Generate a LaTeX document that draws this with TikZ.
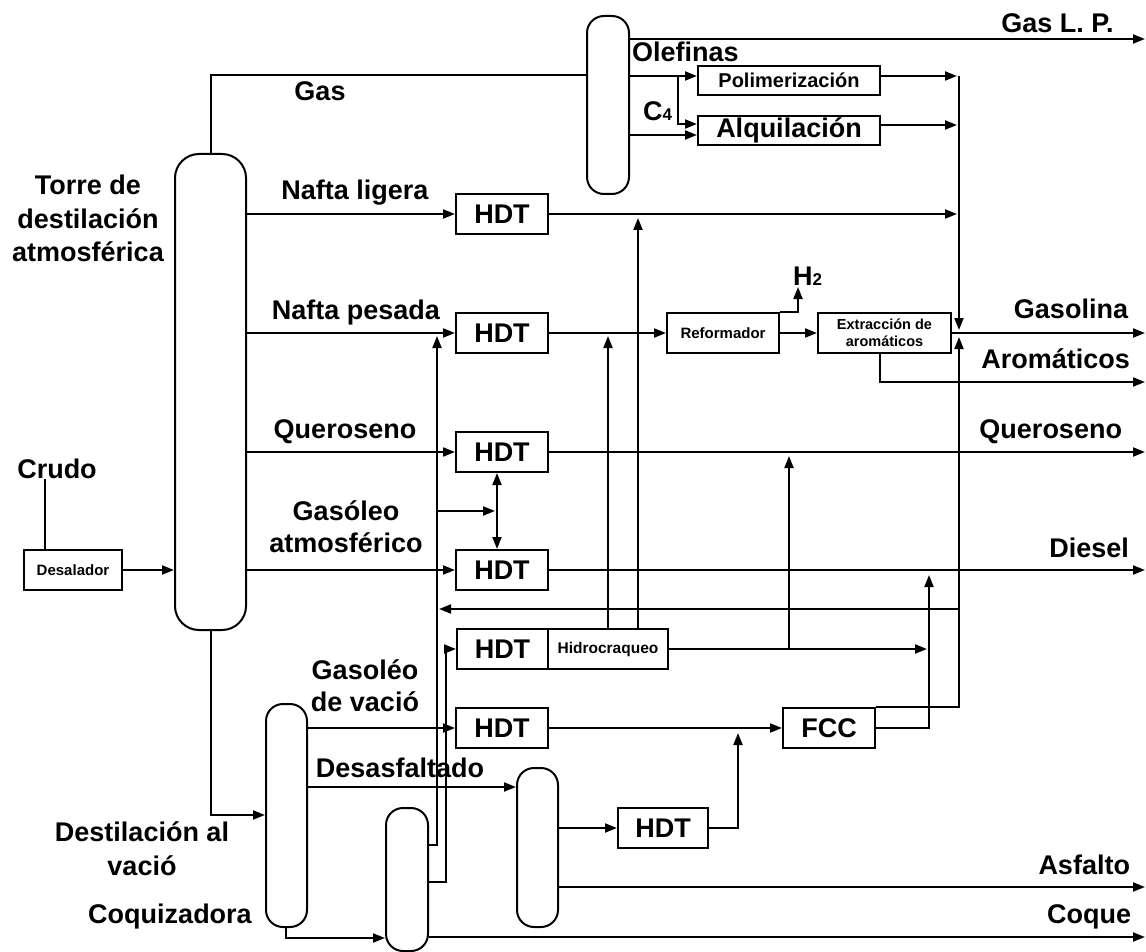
\documentclass[tikz,border=0pt]{standalone}
\usepackage{fontspec}
\setmainfont{Liberation Sans}
\usetikzlibrary{arrows.meta}
\begin{document}
\begin{tikzpicture}[x=1pt,y=-1pt,line width=2pt,
  big/.style={font=\fontsize{27}{33.5}\selectfont\bfseries},
  small/.style={font=\fontsize{15}{18}\selectfont\bfseries},
  lab/.style={big,inner sep=0pt,align=center},
  flow/.style={-{Triangle[length=12pt,width=9pt]}},
  both/.style={{Triangle[length=12pt,width=9pt]}-{Triangle[length=12pt,width=9pt]}},
  unit/.style={draw,inner sep=0pt,line width=2pt},
  hdtbox/.style={unit,big,minimum width=92pt,minimum height=40pt},
  column/.style={draw,inner sep=0pt,line width=2pt},
]
\useasboundingbox[fill=white] (0,0) rectangle (1146,952);

% columns
\node[column,rounded corners=24pt,minimum width=71pt,minimum height=476pt] (atm) at (210.5,392) {};
\node[column,rounded corners=17pt,minimum width=42pt,minimum height=178pt] (sep) at (608,105) {};
\node[column,rounded corners=17pt,minimum width=41pt,minimum height=223pt] (vac) at (286.5,815.5) {};
\node[column,rounded corners=17pt,minimum width=42pt,minimum height=143pt] (cok) at (407,879.5) {};
\node[column,rounded corners=17pt,minimum width=41pt,minimum height=159pt] (dea) at (537.5,847.5) {};

% boxes
\node[unit,small,minimum width=98pt,minimum height=40pt] (desal) at (73,570) {Desalador};
\node[hdtbox] (h1) at (502,214) {HDT};
\node[hdtbox] (h2) at (502,333) {HDT};
\node[hdtbox] (h3) at (502,452) {HDT};
\node[hdtbox] (h4) at (502,570) {HDT};
\node[hdtbox,minimum width=91pt] (h5) at (502.5,649) {HDT};
\node[unit,font=\fontsize{15.5}{18}\selectfont\bfseries,minimum width=120pt,minimum height=40pt] (hc) at (608,649) {Hidrocraqueo};
\node[hdtbox] (h6) at (502,728) {HDT};
\node[unit,font=\fontsize{20}{24}\selectfont\bfseries,minimum width=182pt,minimum height=29pt] (poli) at (789,80.5) {Polimerización};
\node[unit,big,minimum width=182pt,minimum height=29pt] (alq) at (789,130.5) {Alquilación};
\node[unit,small,minimum width=112pt,minimum height=40pt] (ref) at (723,333) {Reformador};
\node[unit,font=\fontsize{14.5}{17.5}\selectfont\bfseries,align=center,minimum width=133pt,minimum height=40pt] (ext) at (884.5,333) {Extracción de\\aromáticos};
\node[hdtbox] (fcc) at (829,728) {FCC};
\node[hdtbox,minimum width=90pt] (h7) at (663,828) {HDT};

% coordinates
\coordinate (gasX) at (211,0);
\coordinate (gasY) at (0,75);
\coordinate (lpE) at (1145,39);
\coordinate (olY) at (0,76);
\coordinate (brk) at (678,76);
\coordinate (alqIn) at (0,124);
\coordinate (c4Y) at (0,135);
\coordinate (alqOut) at (0,125);
\coordinate (colX) at (957,0);
\coordinate (colTop) at (959,76);
\coordinate (colBot) at (959,330);

% gas plant
\draw (atm.north -| gasX) |- (sep.west |- gasY);
\draw[flow] (sep.east |- lpE) -- (lpE);
\draw[flow] (sep.east |- olY) -- (poli.west |- olY);
\draw[flow] (brk) |- (alq.west |- alqIn);
\draw[flow] (sep.east |- c4Y) -- (alq.west |- c4Y);
\draw[flow] (poli.east |- olY) -- (colX |- olY);
\draw[flow] (alq.east |- alqOut) -- (colX |- alqOut);
\draw[flow] (colTop) -- (colBot);

% atmospheric cuts
\draw[flow] (atm.east |- h1.west) -- (h1.west);
\draw[flow] (h1.east) -- (colX |- h1.east);
\draw[flow] (atm.east |- h2.west) -- (h2.west);
\draw[flow] (h2.east) -- (ref.west);
\draw[flow] (ref.east) -- (ext.west);
\coordinate (gasoE) at (1145,333);
\draw[flow] (ext.east) -- (gasoE);
\coordinate (h2top) at (798,287);
\draw[flow] (ref.north east) -| (h2top);
\coordinate (aroE) at (1145,382);
\coordinate (aroX) at (880,0);
\draw[flow] (ext.south -| aroX) |- (aroE);
\draw[flow] (atm.east |- h3.west) -- (h3.west);
\coordinate (kerE) at (1145,452);
\draw[flow] (h3.east) -- (kerE);
\draw[flow] (atm.east |- h4.west) -- (h4.west);
\coordinate (dieE) at (1145,570);
\draw[flow] (h4.east) -- (dieE);

% crude
\draw[flow] (desal.east) -- (atm.west |- desal.east);
\node[lab,anchor=base] (crudo) at (57,478) {Crudo};
\coordinate (crX) at (45,0);
\draw (crudo.south -| crX) -- (desal.north -| crX);

% recycle lines
\coordinate (rX) at (437,0);
\coordinate (r1) at (437,336);
\coordinate (ck1) at (0,845);
\draw[flow] (cok.east |- ck1) -| (r1);
\coordinate (ck2) at (0,882);
\coordinate (r2) at (446,649);
\draw[flow] (cok.east |- ck2) -| (r2) -- (h5.west);
\coordinate (agoY) at (0,511);
\coordinate (dX) at (497,0);
\coordinate (dX2) at (495,0);
\draw[flow] (rX |- agoY) -- (dX2 |- agoY);
\draw[both] (h3.south -| dX) -- (h4.north -| dX);
\coordinate (recY) at (0,609);
\coordinate (gX) at (959,0);
\coordinate (recE) at (439,609);
\draw[flow] (gX |- recY) -- (recE);

% hydrocracker
\coordinate (hcA) at (608,336);
\draw[flow] (hc.north) -- (hcA);
\coordinate (hcB) at (638,218);
\draw[flow] (hc.north -| hcB) -- (hcB);
\coordinate (hcC) at (927,649);
\draw[flow] (hc.east) -- (hcC);
\coordinate (kerUp) at (789,456);
\draw[flow] (hc.east -| kerUp) -- (kerUp);

% vacuum section
\coordinate (vacIn) at (0,815);
\draw[flow] (atm.south -| gasX) |- (vac.west |- vacIn);
\draw[flow] (vac.east |- h6.west) -- (h6.west);
\draw[flow] (h6.east) -- (fcc.west);
\coordinate (deaY) at (0,787);
\draw[flow] (vac.east |- deaY) -- (dea.west |- deaY);
\coordinate (cokIn) at (0,938);
\coordinate (vbX) at (286,0);
\draw[flow] (vac.south -| vbX) |- (cok.west |- cokIn);
\coordinate (coqE) at (1145,937);
\draw[flow] (cok.east |- coqE) -- (coqE);
\draw[flow] (dea.east |- h7.west) -- (h7.west);
\coordinate (fccUp) at (738,733);
\draw[flow] (h7.east) -| (fccUp);
\coordinate (asfE) at (1145,887);
\draw[flow] (dea.east |- asfE) -- (asfE);

% FCC outputs
\coordinate (dUp) at (929,575);
\draw[flow] (fcc.east) -| (dUp);
\coordinate (gUp) at (959,337);
\draw[flow] (fcc.north east) -| (gUp);

% labels
\node[lab,anchor=base] (lgas) at (320,101) {Gas};
\node[lab] (ltorre) at (88,218.5) {Torre de\\destilación\\atmosférica};
\node[lab,anchor=base] (lnl) at (355,200) {Nafta ligera};
\node[lab,anchor=base] (lnp) at (356,319) {Nafta pesada};
\node[lab,anchor=base] (lq) at (345,438) {Queroseno};
\node[lab,font=\fontsize{27}{32}\selectfont\bfseries] (lgo) at (346,527) {Gasóleo\\atmosférico};
\node[lab,anchor=base] (llp) at (1057.5,33) {Gas L. P.};
\node[lab,anchor=base west] (lol) at (631,62) {Olefinas};
\node[lab,anchor=base west] (lc4) at (642,121) {C{\fontsize{17}{17}\selectfont 4}};
\node[lab,anchor=base west] (lh2) at (792,285) {H{\fontsize{17}{17}\selectfont 2}};
\node[lab,anchor=base east] (lgsl) at (1129,318) {Gasolina};
\node[lab,anchor=base east] (laro) at (1131,368) {Aromáticos};
\node[lab,anchor=base east] (lq2) at (1123,438) {Queroseno};
\node[lab,anchor=base east] (ldie) at (1130,557) {Diesel};
\node[lab,anchor=base east] (lasf) at (1131,874) {Asfalto};
\node[lab,anchor=base east] (lcoq) at (1132,923) {Coque};
\node[lab,font=\fontsize{27}{32}\selectfont\bfseries] (lgv) at (365,686) {Gasoléo\\de vació};
\node[lab,anchor=base] (ldes) at (400,777) {Desasfaltado};
\node[lab,font=\fontsize{27}{34}\selectfont\bfseries] (ldv) at (142,849) {Destilación al\\vació};
\node[lab,anchor=base] (lcoqz) at (170,923) {Coquizadora};
\end{tikzpicture}
\end{document}
